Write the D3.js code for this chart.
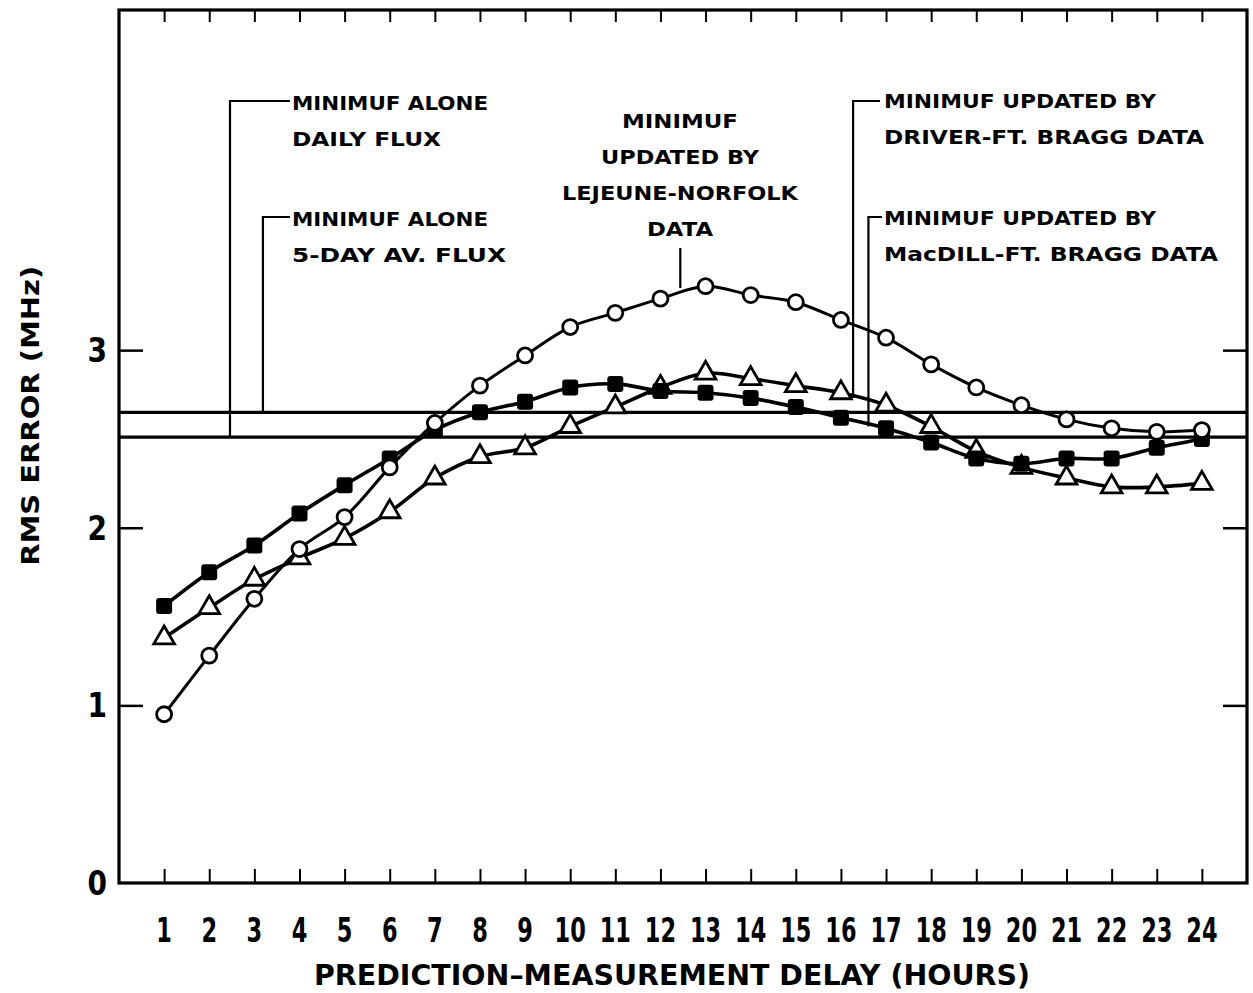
<!DOCTYPE html>
<html><head><meta charset="utf-8">
<script src="https://cdn.jsdelivr.net/npm/d3@7"></script>
<style>html,body{margin:0;padding:0;background:#fff}svg{display:block}</style>
</head><body>
<svg id="chart" width="1253" height="993"></svg>
<script>
// ---- data ----
const hours = d3.range(1, 25);
const xTickLabels = hours.map(String);
const yTicks = [0, 1, 2, 3];
const yTickLabels = ["0", "1", "2", "3"];
// MINIMUF updated by Lejeune-Norfolk data (open circles)
const lejeune = [0.95,1.28,1.60,1.88,2.06,2.34,2.59,2.80,2.97,3.13,3.21,3.29,3.36,3.31,3.27,3.17,3.07,2.92,2.79,2.69,2.61,2.56,2.54,2.55];
// filled squares
const squares = [1.56,1.75,1.90,2.08,2.24,2.39,2.55,2.65,2.71,2.79,2.81,2.77,2.76,2.73,2.68,2.62,2.56,2.48,2.39,2.36,2.39,2.39,2.45,2.50];
// open triangles
const triangles = [1.38,1.55,1.71,1.83,1.94,2.09,2.28,2.40,2.45,2.57,2.68,2.79,2.87,2.84,2.80,2.76,2.69,2.57,2.43,2.34,2.28,2.23,2.23,2.25];
// MINIMUF alone reference levels
const dailyFlux = 2.51;
const fiveDayFlux = 2.65;
const xTitle = "PREDICTION\u2013MEASUREMENT DELAY (HOURS)";
const yTitle = "RMS ERROR (MHz)";

// ---- scales ----
const svg = d3.select("#chart");
const x = d3.scaleLinear().domain([0, 25]).range([119, 1247]);
const y = d3.scaleLinear().domain([0, 4.915]).range([883, 10]);
const FONT = "'DejaVu Sans', sans-serif";

// frame
svg.append("rect").attr("x", x(0)).attr("y", y(4.915)).attr("width", x(25) - x(0)).attr("height", y(0) - y(4.915))
  .attr("fill", "none").attr("stroke", "#000").attr("stroke-width", 3.2);

// bottom ticks (inward)
const bottomAxis = d3.axisBottom(x).tickValues(hours).tickSize(-14).tickFormat("");
svg.append("g").attr("transform", `translate(0,${y(0)})`).call(bottomAxis)
  .call(g => g.select(".domain").remove())
  .call(g => g.selectAll("line").attr("stroke", "#000").attr("stroke-width", 2));
// top ticks (inward)
const topAxis = d3.axisTop(x).tickValues(hours).tickSize(-12).tickFormat("");
svg.append("g").attr("transform", `translate(0,${y(4.915)})`).call(topAxis)
  .call(g => g.select(".domain").remove())
  .call(g => g.selectAll("line").attr("stroke", "#000").attr("stroke-width", 2));
// left ticks
const leftAxis = d3.axisLeft(y).tickValues([1, 2, 3]).tickSize(-24).tickFormat("");
svg.append("g").attr("transform", `translate(${x(0)},0)`).call(leftAxis)
  .call(g => g.select(".domain").remove())
  .call(g => g.selectAll("line").attr("stroke", "#000").attr("stroke-width", 2.5));
// right ticks
const rightAxis = d3.axisRight(y).tickValues([1, 2, 3]).tickSize(-24).tickFormat("");
svg.append("g").attr("transform", `translate(${x(25)},0)`).call(rightAxis)
  .call(g => g.select(".domain").remove())
  .call(g => g.selectAll("line").attr("stroke", "#000").attr("stroke-width", 2.5));

// x tick labels (condensed)
svg.append("g").selectAll("text").data(hours).join("text")
  .attr("transform", d => `translate(${x(d)},${y(0) + 59}) scale(0.68,1)`)
  .attr("text-anchor", "middle").attr("font-family", FONT).attr("font-weight", "bold").attr("font-size", 33)
  .text((d, i) => xTickLabels[i]);
// y tick labels
svg.append("g").selectAll("text").data(yTicks).join("text")
  .attr("transform", d => `translate(${x(0) - 12},${y(d) + 12}) scale(0.85,1)`)
  .attr("text-anchor", "end").attr("font-family", FONT).attr("font-weight", "bold").attr("font-size", 33)
  .text((d, i) => yTickLabels[i]);

// axis titles
svg.append("text").attr("x", 672).attr("y", 985).attr("text-anchor", "middle")
  .attr("font-family", FONT).attr("font-weight", "bold").attr("font-size", 29).attr("textLength", 716).attr("lengthAdjust", "spacingAndGlyphs")
  .text(xTitle);
svg.append("text").attr("transform", `translate(39,${y(2.63)}) rotate(-90)`).attr("text-anchor", "middle")
  .attr("font-family", FONT).attr("font-weight", "bold").attr("font-size", 25).attr("textLength", 300).attr("lengthAdjust", "spacingAndGlyphs")
  .text(yTitle);

// reference lines
[dailyFlux, fiveDayFlux].forEach(v => {
  svg.append("line").attr("x1", x(0)).attr("x2", x(25)).attr("y1", y(v)).attr("y2", y(v))
    .attr("stroke", "#000").attr("stroke-width", 3.2);
});

// leader lines & labels
function leader(xd, yd, yTop, xEnd) {
  svg.append("path")
    .attr("d", `M${x(xd)},${y(yd)} V${yTop} H${xEnd}`)
    .attr("fill", "none").attr("stroke", "#000").attr("stroke-width", 2.2);
}
function label(lines, x0, y0, anchor, widths) {
  lines.forEach((t, i) => {
    const el = svg.append("text").attr("x", x0).attr("y", y0 + i * 36)
      .attr("text-anchor", anchor).attr("font-family", FONT).attr("font-weight", "bold")
      .attr("font-size", 20).text(t);
    if (widths && widths[i]) el.attr("textLength", widths[i]).attr("lengthAdjust", "spacingAndGlyphs");
  });
}
leader(2.46, dailyFlux, 101, 290);
label(["MINIMUF ALONE", "DAILY FLUX"], 292, 110, "start", [196, 149]);
leader(3.19, fiveDayFlux, 217, 290);
label(["MINIMUF ALONE", "5-DAY AV. FLUX"], 292, 226, "start", [196, 214]);
leader(12.44, 3.35, 248, x(12.44));
label(["MINIMUF", "UPDATED BY", "LEJEUNE-NORFOLK", "DATA"], 680, 128, "middle", [116, 158, 236, 66]);
leader(16.27, 2.73, 101, 880);
label(["MINIMUF UPDATED BY", "DRIVER-FT. BRAGG DATA"], 884, 108, "start", [272, 320]);
leader(16.61, 2.57, 217, 882);
label(["MINIMUF UPDATED BY", "MacDILL-FT. BRAGG DATA"], 884, 225, "start", [272, 334]);

// series
const line = d3.line().x((d, i) => x(hours[i])).y(d => y(d)).curve(d3.curveCatmullRom.alpha(0.5));
svg.append("path").attr("d", line(lejeune)).attr("fill", "none").attr("stroke", "#000").attr("stroke-width", 3);
svg.append("path").attr("d", line(squares)).attr("fill", "none").attr("stroke", "#000").attr("stroke-width", 3.6);
svg.append("path").attr("d", line(triangles)).attr("fill", "none").attr("stroke", "#000").attr("stroke-width", 3.6);

// markers
const sym = d3.symbol();
svg.append("g").selectAll("path").data(triangles).join("path")
  .attr("transform", (d, i) => `translate(${x(hours[i])},${y(d)})`)
  .attr("d", sym.type(d3.symbolTriangle).size(185)())
  .attr("fill", "#fff").attr("stroke", "#000").attr("stroke-width", 2.8);
svg.append("g").selectAll("rect").data(squares).join("rect")
  .attr("x", (d, i) => x(hours[i]) - 8).attr("y", d => y(d) - 8)
  .attr("width", 16).attr("height", 16).attr("rx", 3)
  .attr("fill", "#000");
svg.append("g").selectAll("circle").data(lejeune).join("circle")
  .attr("cx", (d, i) => x(hours[i])).attr("cy", d => y(d)).attr("r", 7.5)
  .attr("fill", "#fff").attr("stroke", "#000").attr("stroke-width", 2.8);
</script>
</body></html>
